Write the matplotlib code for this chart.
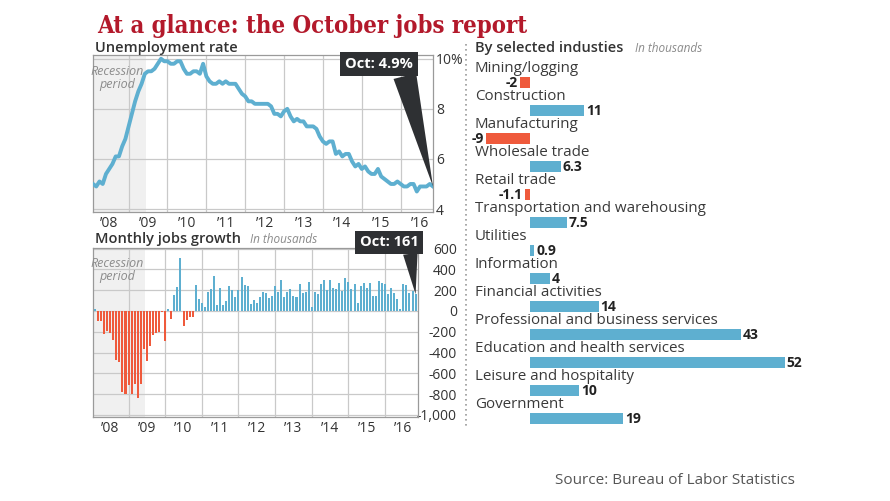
import matplotlib
matplotlib.use('Agg')
import matplotlib.pyplot as plt
import numpy as np
from matplotlib.lines import Line2D

plt.rcParams['font.family'] = ['Open Sans', 'DejaVu Sans']

# monthly unemployment rate, Jan 2008 - Oct 2016 (%)
unemp_rate = [5.0, 4.9, 5.1, 5.0, 5.4, 5.6, 5.8, 6.1, 6.1, 6.5, 6.8, 7.3,
              7.8, 8.3, 8.7, 9.0, 9.4, 9.5, 9.5, 9.6, 9.8, 10.0, 9.9, 9.9,
              9.8, 9.8, 9.9, 9.9, 9.6, 9.4, 9.4, 9.5, 9.5, 9.4, 9.8, 9.3,
              9.1, 9.0, 9.0, 9.1, 9.0, 9.1, 9.0, 9.0, 9.0, 8.8, 8.6, 8.5,
              8.3, 8.3, 8.2, 8.2, 8.2, 8.2, 8.2, 8.1, 7.8, 7.8, 7.7, 7.9,
              8.0, 7.7, 7.5, 7.6, 7.5, 7.5, 7.3, 7.3, 7.3, 7.2, 6.9, 6.7,
              6.6, 6.7, 6.7, 6.2, 6.3, 6.1, 6.2, 6.2, 5.9, 5.7, 5.8, 5.6,
              5.7, 5.5, 5.4, 5.4, 5.6, 5.3, 5.2, 5.1, 5.0, 5.0, 5.1, 5.0,
              4.9, 4.9, 5.0, 5.0, 4.7, 4.9, 4.9, 4.9, 5.0, 4.9]

# monthly change in payrolls, Jan 2008 - Oct 2016 (thousands)
jobs_change = [15, -100, -95, -220, -190, -210, -275, -475, -490, -780, -800, -715,
               -800, -700, -835, -700, -365, -485, -335, -230, -215, -200, -10, -290,
               16, -80, 150, 232, 508, -143, -86, -54, -63, 245, 115, 80,
               35, 180, 215, 335, 60, 225, 60, 100, 235, 200, 130, 200,
               325, 245, 235, 65, 105, 80, 135, 185, 170, 120, 140, 235,
               180, 300, 130, 185, 210, 140, 135, 260, 175, 180, 280, 40,
               180, 165, 260, 300, 205, 300, 225, 215, 265, 190, 320, 280,
               215, 255, 75, 240, 265, 220, 265, 145, 145, 285, 270, 260,
               165, 225, 170, 115, 20, 260, 245, 170, 190, 161]

industries = ['Mining/logging', 'Construction', 'Manufacturing', 'Wholesale trade',
              'Retail trade', 'Transportation and warehousing', 'Utilities',
              'Information', 'Financial activities', 'Professional and business services',
              'Education and health services', 'Leisure and hospitality', 'Government']
industry_change = [-2, 11, -9, 6.3, -1.1, 7.5, 0.9, 4, 14, 43, 52, 10, 19]
industry_labels = ['-2', '11', '-9', '6.3', '-1.1', '7.5', '0.9', '4', '14', '43', '52', '10', '19']

years = list(range(2008, 2017))
year_labels = ["\u2019%02d" % (y % 100) for y in years]
recession = (2007.95, 2009.45)

blue = '#5eafd0'
red = '#ef5a3c'
dark = '#2e3033'
grid_c = '#c9c9c9'
spine_c = '#9a9a9a'
text_c = '#333333'

months = 2008 + (np.arange(len(unemp_rate)) + 1) / 12.0

fig = plt.figure(figsize=(8.9, 5.01), dpi=100)

def style_axis(ax):
    for s in ax.spines.values():
        s.set_color(spine_c)
        s.set_linewidth(0.9)
    ax.set_xticks(years[1:])
    ax.set_xticklabels([])
    ax.set_xticks([y + 0.5 for y in years], minor=True)
    ax.set_xticklabels(year_labels, minor=True, fontsize=10, color=text_c)
    ax.tick_params(axis='x', which='both', length=0, pad=3)
    ax.tick_params(axis='y', length=0, labelleft=False, labelright=True, labelsize=10,
                   labelcolor=text_c)
    ax.grid(True, which='major', color=grid_c, linewidth=0.9)
    ax.set_axisbelow(True)

# --- unemployment rate
ax0 = fig.add_axes([0.1045, 0.5768, 0.382, 0.3134])
ax0.axvspan(recession[0], recession[1], color='#f0f0f0', zorder=0, lw=0)
ax0.plot(months, unemp_rate, color=blue, lw=2.8, solid_joinstyle='round', zorder=3)
ax0.set_xlim(2008.083, 2016.833)
ax0.set_ylim(3.88, 10.15)
ax0.set_yticks([4, 6, 8, 10])
ax0.set_yticklabels(['4', '6', '8', '10%'])
style_axis(ax0)
ax0.tick_params(axis='y', pad=2)
ax0.text(np.mean(recession), 0.855, 'Recession\nperiod', transform=ax0.get_xaxis_transform(),
         ha='center', va='center', style='italic', fontsize=9, color='#8c8c8c',
         linespacing=1.05)
ax0.annotate('Oct: 4.9%', xy=(months[-1], unemp_rate[-1]), xytext=(0.841, 0.943),
             textcoords='axes fraction', ha='center', va='center', color='white',
             fontsize=10.5, fontweight='bold', zorder=6,
             bbox=dict(boxstyle='square,pad=0.35', fc=dark, ec='none'),
             arrowprops=dict(arrowstyle='wedge,tail_width=1.6', fc=dark, ec='none',
                             relpos=(0.86, 0.05), shrinkA=0, shrinkB=0))
fig.text(0.107, 1 - 52 / 501., 'Unemployment rate', fontsize=10.5, fontweight='semibold',
         color=text_c, va='baseline')

# --- monthly jobs growth
ax1 = fig.add_axes([0.1045, 0.1677, 0.3652, 0.3373])
ax1.axvspan(recession[0], recession[1], color='#f0f0f0', zorder=0, lw=0)
bar_colors = [blue if v >= 0 else red for v in jobs_change]
ax1.bar(months, jobs_change, width=0.055, color=bar_colors, zorder=3, lw=0)
ax1.set_xlim(2008.03, 2016.9)
ax1.set_ylim(-1020, 605)
jticks = list(range(-1000, 601, 200))
ax1.set_yticks(jticks)
ax1.set_yticklabels(['{:,}'.format(t) for t in jticks])
style_axis(ax1)
ax1.tick_params(axis='y', pad=28)
for lab in ax1.get_yticklabels():
    lab.set_horizontalalignment('right')
ax1.text(np.mean(recession), 0.87, 'Recession\nperiod', transform=ax1.get_xaxis_transform(),
         ha='center', va='center', style='italic', fontsize=9, color='#8c8c8c',
         linespacing=1.05)
ax1.annotate('Oct: 161', xy=(months[-1], jobs_change[-1]), xytext=(0.911, 1.033),
             textcoords='axes fraction', ha='center', va='center', color='white',
             fontsize=10.5, fontweight='bold', zorder=6, annotation_clip=False,
             bbox=dict(boxstyle='square,pad=0.3', fc=dark, ec='none'),
             arrowprops=dict(arrowstyle='wedge,tail_width=1.0', fc=dark, ec='none',
                             relpos=(0.85, 0.05), shrinkA=0, shrinkB=0))
fig.text(0.107, 1 - 243 / 501., 'Monthly jobs growth', fontsize=10.5, fontweight='semibold',
         color=text_c, va='baseline')
fig.text(250 / 890., 1 - 243 / 501., 'In thousands', fontsize=8.5, style='italic',
         color='#8a8a8a', va='baseline')

# --- industries
ax2 = fig.add_axes([466 / 890., 1 - 430 / 501., 414 / 890., 385 / 501.])
rows = np.arange(len(industries))
ind_colors = [blue if v >= 0 else red for v in industry_change]
ax2.barh(rows, industry_change, height=0.4, color=ind_colors, lw=0)
ax2.set_xlim(-13.05, 71.4)
ax2.set_ylim(12.41, -1.34)
ax2.axis('off')
for r, name in zip(rows, industries):
    ax2.text(0.0217, r - 0.49, name, transform=ax2.get_yaxis_transform(), ha='left',
             va='center', fontsize=10.9, color='#3a3a3a')
for r, v, lab in zip(rows, industry_change, industry_labels):
    if v >= 0:
        ax2.text(v + 0.4, r + 0.02, lab, ha='left', va='center', fontsize=10,
                 fontweight='bold', color='#222222')
    else:
        ax2.text(v - 0.4, r + 0.02, lab, ha='right', va='center', fontsize=10,
                 fontweight='bold', color='#222222')
fig.text(475 / 890., 1 - 52 / 501., 'By selected industies', fontsize=10.5,
         fontweight='semibold', color=text_c, va='baseline')
fig.text(635 / 890., 1 - 52 / 501., 'In thousands', fontsize=8.5, style='italic',
         color='#8a8a8a', va='baseline')

# dotted separator
fig.add_artist(Line2D([466 / 890., 466 / 890.], [1 - 44 / 501., 1 - 428 / 501.],
                      color='#9a9a9a', lw=1.2, linestyle=(0, (1, 2))))

fig.text(97 / 890., 1 - 33 / 501., 'At a glance: the October jobs report', fontsize=17.1,
         fontweight='bold', family='DejaVu Serif', fontstretch='condensed',
         color='#b3192b', va='baseline')
fig.text(555 / 890., 1 - 480 / 501., 'Source: Bureau of Labor Statistics', fontsize=11,
         color='#555555', va='center')

plt.savefig('out.png', dpi=100)
